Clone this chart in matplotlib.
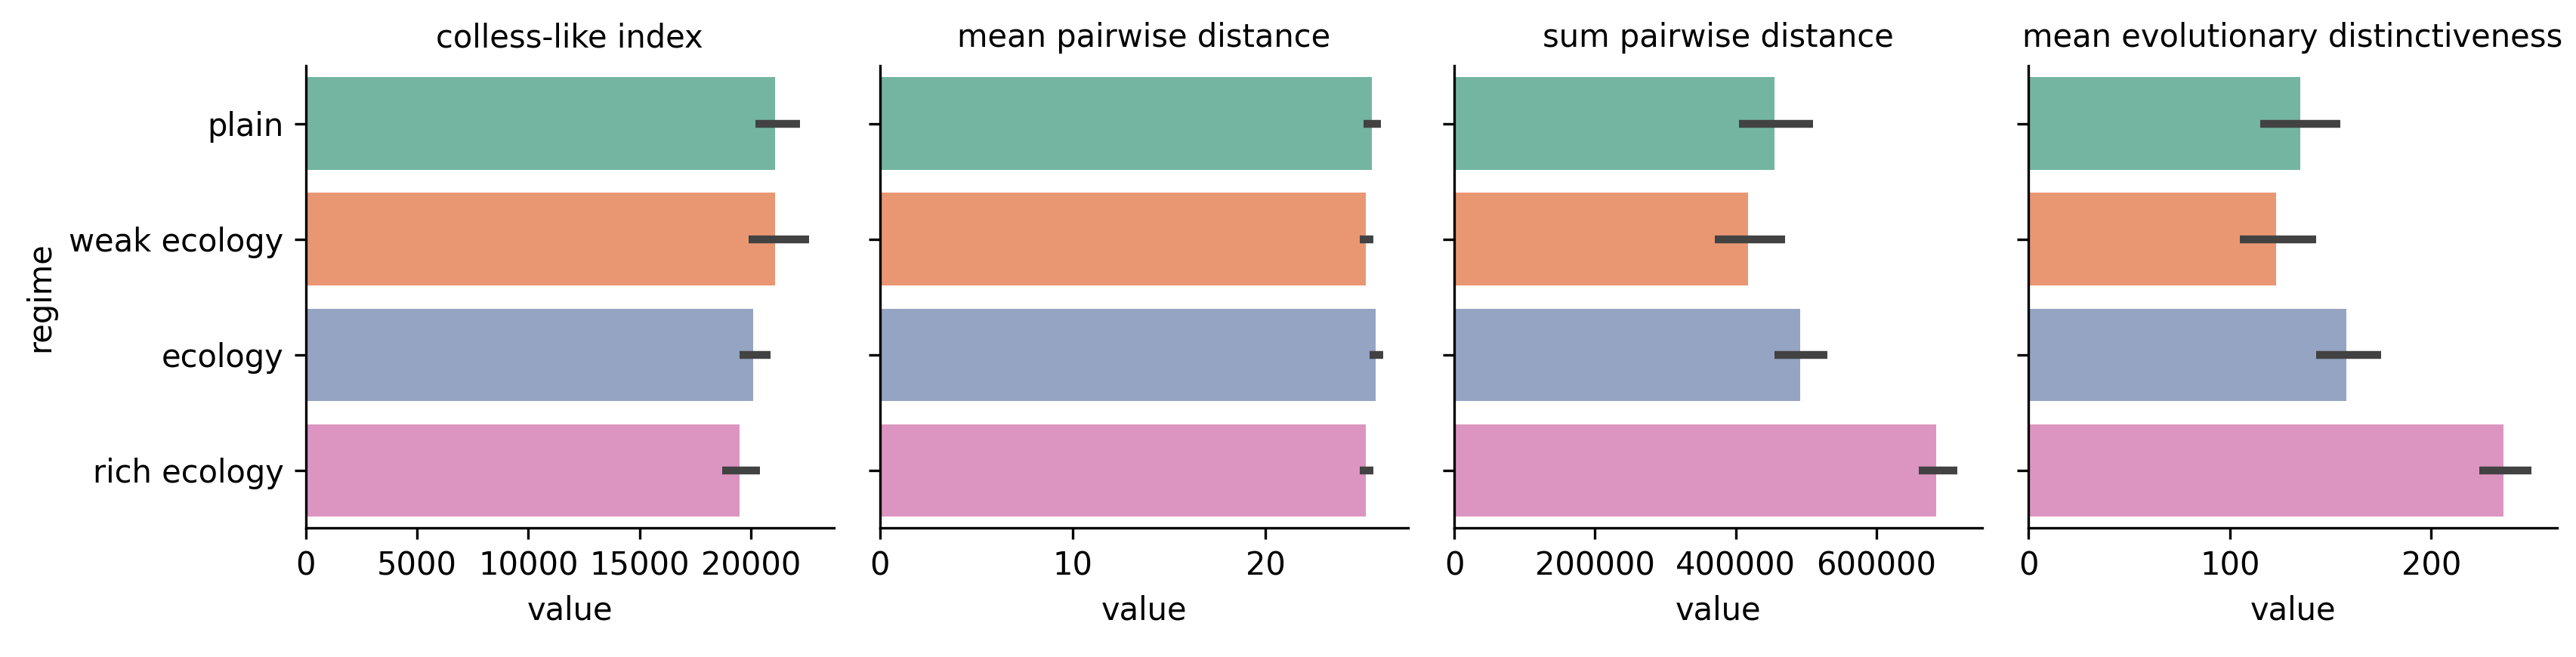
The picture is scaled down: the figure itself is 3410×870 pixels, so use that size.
import matplotlib

matplotlib.use("Agg")
import matplotlib.pyplot as plt

regimes = ["plain", "weak ecology", "ecology", "rich ecology"]
metrics = ["colless-like index", "mean pairwise distance",
           "sum pairwise distance", "mean evolutionary distinctiveness"]

colless = [21100, 21100, 20100, 19500]
colless_ci = [(20200, 22200), (19900, 22600), (19500, 20900), (18700, 20400)]
mpd = [25.5, 25.2, 25.7, 25.2]
mpd_ci = [(25.1, 26.0), (24.9, 25.6), (25.4, 26.1), (24.9, 25.6)]
spd = [455000, 418000, 492000, 685000]
spd_ci = [(405000, 510000), (370000, 470000), (455000, 530000), (660000, 715000)]
med = [135, 123, 158, 236]
med_ci = [(115, 155), (105, 143), (143, 175), (224, 250)]

colors = ["#73b5a1", "#e99773", "#95a4c3", "#dc95c1"]

panels = [(colless, colless_ci, [0, 5000, 10000, 15000, 20000]),
          (mpd, mpd_ci, [0, 10, 20]),
          (spd, spd_ci, [0, 200000, 400000, 600000]),
          (med, med_ci, [0, 100, 200])]

fig = plt.figure(figsize=(3411 / 300, 870 / 300), dpi=300)
left, width, step = 0.1186, 0.205, 0.2229
bottom, height = 0.196, 0.704

for i, (title, (vals, cis, ticks)) in enumerate(zip(metrics, panels)):
    ax = fig.add_axes([left + i * step, bottom, width, height])
    ys = list(range(len(regimes)))
    ax.barh(ys, vals, height=0.8, color=colors)
    for y, (lo, hi) in zip(ys, cis):
        ax.plot([lo, hi], [y, y], color="#424242", lw=2.5, solid_capstyle="butt")
    ax.set_ylim(3.5, -0.5)
    ax.set_xlim(0, max(hi for _, hi in cis) * 1.05)
    ax.set_xticks(ticks)
    ax.set_yticks(ys)
    if i == 0:
        ax.set_yticklabels(regimes)
        ax.set_ylabel("regime")
    else:
        ax.set_yticklabels([])
    ax.set_xlabel("value")
    ax.set_title(title, fontsize=10)
    ax.spines[["top", "right"]].set_visible(False)

fig.savefig("out.png", dpi=300)
